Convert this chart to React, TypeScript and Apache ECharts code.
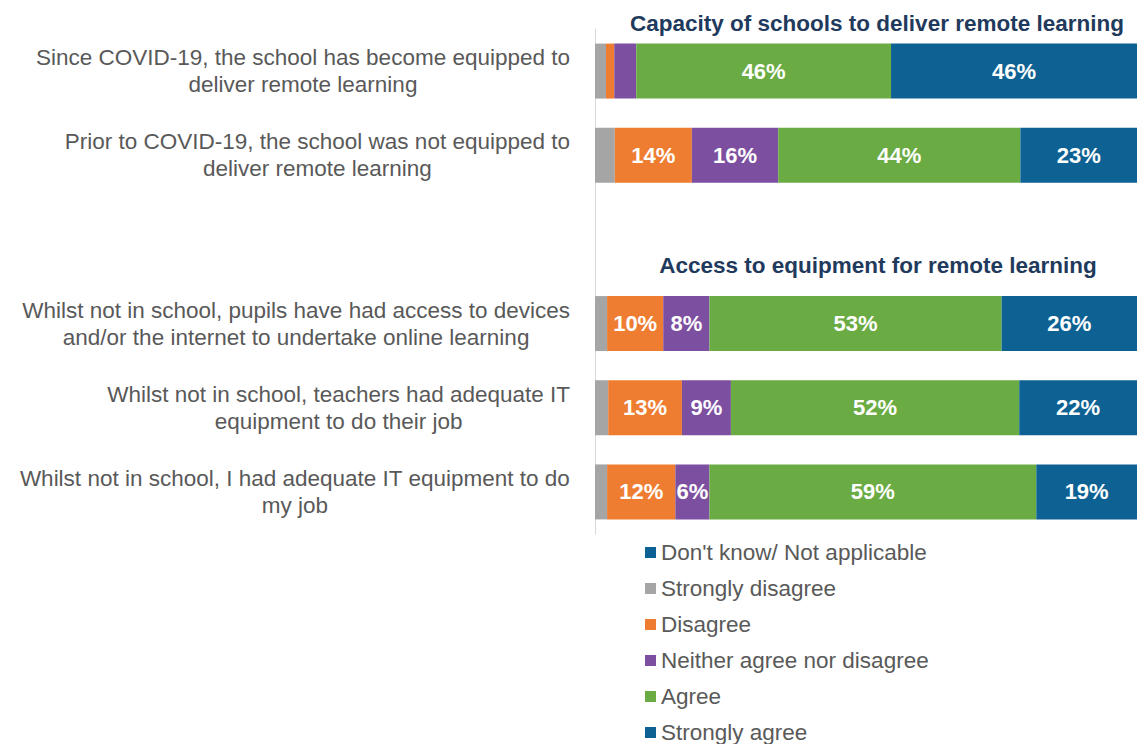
import React, { useEffect, useRef } from "react";
import * as echarts from "echarts";

const categories = [
  "Since COVID-19, the school has become equipped to\ndeliver remote learning",
  "Prior to COVID-19, the school was not equipped to\ndeliver remote learning",
  "",
  "Whilst not in school, pupils have had access to devices\nand/or the internet to undertake online learning",
  "Whilst not in school, teachers had adequate IT\nequipment to do their job",
  "Whilst not in school, I had adequate IT equipment to do\nmy job",
];

const seriesNames = [
  "Strongly disagree",
  "Disagree",
  "Neither agree nor disagree",
  "Agree",
  "Strongly agree",
  "Don't know/ Not applicable",
];

const stronglyDisagree = [2, 3.6, null, 2.2, 2.4, 2.2];
const disagree = [1.5, 14, null, 10.2, 13.4, 12.4];
const neither = [4, 15.7, null, 8.4, 8.9, 6.2];
const agree = [46.3, 44, null, 53.1, 52.4, 59.4];
const stronglyAgree = [46.2, 22.7, null, 26.1, 22.4, 19.4];
const dontKnow = [0, 0, null, 0, 0, 0];

const legendOrder = [
  "Don't know/ Not applicable",
  "Strongly disagree",
  "Disagree",
  "Neither agree nor disagree",
  "Agree",
  "Strongly agree",
];

const colors: Record<string, string> = {
  "Strongly disagree": "#a5a5a5",
  Disagree: "#ee7d31",
  "Neither agree nor disagree": "#7d4fa0",
  Agree: "#6aab44",
  "Strongly agree": "#0e6293",
  "Don't know/ Not applicable": "#0e6293",
};

const sectionTitles = [
  "Capacity of schools to deliver remote learning",
  "Access to equipment for remote learning",
];

export default function App() {
  const ref = useRef<HTMLDivElement>(null);
  useEffect(() => {
    if (!ref.current) return;
    const chart = echarts.init(ref.current, null, { renderer: "svg" });
    const values = [stronglyDisagree, disagree, neither, agree, stronglyAgree, dontKnow];
    const font = "'Liberation Sans', Arial, sans-serif";
    const fs = 22.5;
    chart.setOption({
      animation: false,
      textStyle: { fontFamily: font },
      grid: { left: 595, right: 0, top: 29, bottom: 210, containLabel: false },
      xAxis: { type: "value", min: 0, max: 98.5, show: false },
      yAxis: {
        type: "category",
        inverse: true,
        data: categories,
        axisTick: { show: false },
        axisLine: { show: true, lineStyle: { color: "#d9d9d9", width: 1 } },
        axisLabel: {
          margin: 25,
          align: "right",
          formatter: (v: string) =>
            v ? v.split("\n").map((l) => `{c|${l}}`).join("\n") : "",
          rich: {
            c: {
              align: "center",
              fontSize: fs,
              lineHeight: 27,
              color: "#595959",
              fontFamily: font,
            },
          },
        },
      },
      legend: {
        orient: "vertical",
        left: 645,
        top: 541,
        height: 240,
        padding: 0,
        data: legendOrder,
        icon: "rect",
        itemWidth: 11,
        itemHeight: 11,
        itemGap: 13,
        textStyle: { fontSize: fs, color: "#595959", fontFamily: font },
      },
      graphic: [
        {
          type: "text",
          x: 877,
          y: 23,
          style: {
            text: sectionTitles[0],
            textAlign: "center",
            textVerticalAlign: "middle",
            font: `bold ${fs}px ${font}`,
            fill: "#1f3a5c",
          },
        },
        {
          type: "text",
          x: 878,
          y: 265,
          style: {
            text: sectionTitles[1],
            textAlign: "center",
            textVerticalAlign: "middle",
            font: `bold ${fs}px ${font}`,
            fill: "#1f3a5c",
          },
        },
      ],
      series: seriesNames.map((name, i) => ({
        name,
        type: "bar",
        stack: "total",
        barWidth: 55,
        clip: true,
        data: values[i],
        itemStyle: { color: colors[name] },
        label: {
          show: true,
          position: "inside",
          color: "#ffffff",
          fontWeight: "bold",
          fontSize: 22,
          fontFamily: font,
          formatter: (p: any) =>
            p.value != null && p.value >= 5 ? `${Math.round(p.value)}%` : "",
        },
      })),
    });
    return () => chart.dispose();
  }, []);
  return (
    <div
      ref={ref}
      style={{ position: "fixed", left: 0, top: 0, width: 1137, height: 744, background: "#fff" }}
    />
  );
}
